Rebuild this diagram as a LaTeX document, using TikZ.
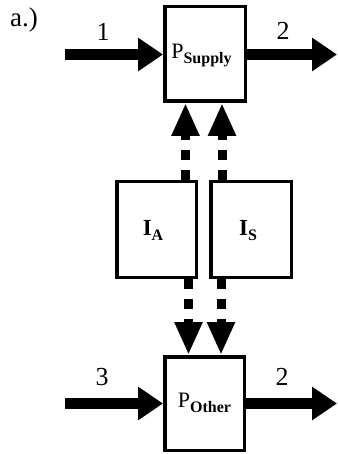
\documentclass[tikz,border=0pt]{standalone}
\usepackage{fontspec}
\setmainfont{Liberation Serif}
\usetikzlibrary{arrows.meta}
\newcommand{\subtxt}[1]{\raisebox{-5pt}{\fontsize{16}{17}\selectfont\bfseries #1}}
\newcommand{\placed}[3]{\raisebox{#2}[0pt][0pt]{\makebox[0pt]{\hspace*{#1}#3}}}
\begin{document}
\begin{tikzpicture}[x=1pt,y=-1pt,
  box/.style={draw, line width=3.5pt, inner sep=0pt},
  bigarrow/.style={line width=11pt, -{Triangle[length=25pt,width=32pt]}},
  dasharrow/.style={line width=9pt, dash pattern=on 10pt off 10pt, -{Triangle[length=33pt,width=26pt]}},
  lbl/.style={font=\fontsize{26}{28}\selectfont}]
\useasboundingbox (0,0) rectangle (337,454);
\node[box, minimum width=80.5pt, minimum height=94.5pt] (psup) at (205,54) {\placed{-7pt}{-5pt}{\fontsize{22}{24}\selectfont P\subtxt{Supply}}};
\node[box, minimum width=79.5pt, minimum height=93.5pt] (poth) at (204.5,403.5) {\placed{0pt}{-3.5pt}{\fontsize{22}{24}\selectfont P\subtxt{Other}}};
\node[box, minimum width=79.5pt, minimum height=95.5pt] (ia) at (156.5,229.5) {\placed{-7pt}{-5.5pt}{\fontsize{23}{24}\selectfont\bfseries I\subtxt{A}}};
\node[box, minimum width=80.5pt, minimum height=95.5pt] (is) at (251,229.5) {\placed{-6pt}{-5.5pt}{\fontsize{23}{24}\selectfont\bfseries I\subtxt{S}}};
\coordinate (in1) at (65,54.5);
\coordinate (out1) at (337,54.5);
\coordinate (in3) at (65,403.5);
\coordinate (out3) at (337,403.5);
\draw[bigarrow] (in1) -- (psup.west |- in1);
\draw[bigarrow] (psup.east |- out1) -- (out1);
\draw[bigarrow] (in3) -- (poth.west |- in3);
\draw[bigarrow] (poth.east |- out3) -- (out3);
\coordinate (xa) at (185.5,0);
\coordinate (xb) at (222,0);
\coordinate (xc) at (188.5,0);
\coordinate (xd) at (221,0);
\draw[dasharrow] (ia.north -| xa) -- (psup.south -| xa);
\draw[dasharrow] (is.north -| xb) -- (psup.south -| xb);
\draw[dasharrow] (ia.south -| xc) -- (poth.north -| xc);
\draw[dasharrow] (is.south -| xd) -- (poth.north -| xd);
\node[lbl] (n1) at (103,32) {1};
\node[lbl] (n2) at (283,31) {2};
\node[lbl] (n3) at (102,377) {3};
\node[lbl] (n4) at (282,377) {2};
\node[font=\fontsize{27}{29}\selectfont] (lab) at (24,20) {a.)};
\end{tikzpicture}
\end{document}
